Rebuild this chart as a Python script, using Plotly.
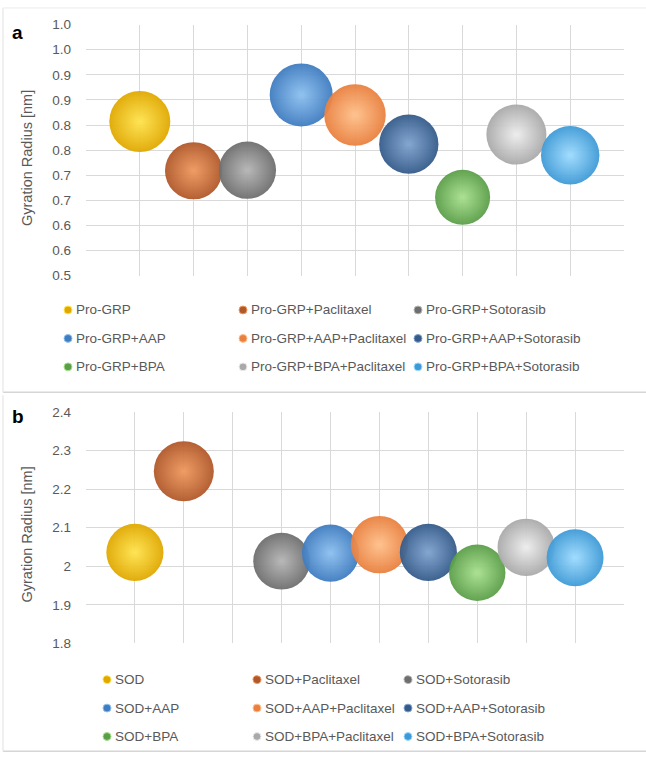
import plotly.graph_objects as go

# ---------------- data ----------------
names_a = ["Pro-GRP", "Pro-GRP+Paclitaxel", "Pro-GRP+Sotorasib",
           "Pro-GRP+AAP", "Pro-GRP+AAP+Paclitaxel", "Pro-GRP+AAP+Sotorasib",
           "Pro-GRP+BPA", "Pro-GRP+BPA+Paclitaxel", "Pro-GRP+BPA+Sotorasib"]
x_a = [1, 2, 3, 4, 5, 6, 7, 8, 9]
y_a = [0.807, 0.709, 0.710, 0.860, 0.820, 0.762, 0.656, 0.781, 0.740]

names_b = ["SOD", "SOD+Paclitaxel", "SOD+Sotorasib",
           "SOD+AAP", "SOD+AAP+Paclitaxel", "SOD+AAP+Sotorasib",
           "SOD+BPA", "SOD+BPA+Paclitaxel", "SOD+BPA+Sotorasib"]
x_b = [1, 2, 4, 5, 6, 7, 8, 9, 10]
y_b = [2.036, 2.246, 2.013, 2.034, 2.056, 2.036, 1.983, 2.049, 2.022]

tickvals_a = [0.5, 0.55, 0.6, 0.65, 0.7, 0.75, 0.8, 0.85, 0.9, 0.95, 1.0]
ticktext_a = ["0.5", "0.6", "0.6", "0.7", "0.7", "0.8", "0.8", "0.9", "0.9", "1.0", "1.0"]
tickvals_b = [1.8, 1.9, 2.0, 2.1, 2.2, 2.3, 2.4]
ticktext_b = ["1.8", "1.9", "2", "2.1", "2.2", "2.3", "2.4"]

# edge colour, highlight colour
colors = [("#E0A800", "#FFE34D"), ("#B0582A", "#F0985E"), ("#6E6E6E", "#B5B5B5"),
          ("#3F7CC0", "#8CC0F0"), ("#E9803F", "#FFC08A"), ("#355B8A", "#7EA2CF"),
          ("#5A9E48", "#A8E08E"), ("#A9A9A9", "#EDEDED"), ("#3E9AD6", "#9EDBFF")]

W, H = 646, 769
FONT = "Liberation Sans"
GRID = "#D9D9D9"
TXT = "#595959"
FRAME = "#D6D6D6"

def px_x(p):
    return p / W

def px_y(p):
    return 1 - p / H

fig = go.Figure()

def add_panel(names, xs, ys, xaxis, yaxis, maxdiam):
    sref = 2.0 * max(ys) / (maxdiam ** 2)
    for n, xv, yv, (c, hl) in zip(names, xs, ys, colors):
        fig.add_trace(go.Scatter(
            x=[xv], y=[yv], mode="markers", name=n, showlegend=False,
            xaxis=xaxis, yaxis=yaxis, cliponaxis=False,
            marker=dict(size=[yv], sizemode="area", sizeref=sref, color=c,
                        opacity=0.95,
                        gradient=dict(type="radial", color=hl),
                        line=dict(width=0)),
        ))

add_panel(names_a, x_a, y_a, "x", "y", 63)
add_panel(names_b, x_b, y_b, "x2", "y2", 60)

ax_common = dict(showgrid=True, gridcolor=GRID, gridwidth=1, zeroline=False,
                 showticklabels=False, ticks="", showline=False, dtick=1)
ay_common = dict(showgrid=True, gridcolor=GRID, gridwidth=1, zeroline=False,
                 showline=False, tickmode="array", ticks="",
                 tickfont=dict(family=FONT, size=13.5, color=TXT),
                 ticklabelstandoff=14)

fig.update_layout(
    width=W, height=H, margin=dict(l=0, r=0, t=0, b=0),
    paper_bgcolor="white", plot_bgcolor="white",
    font=dict(family=FONT, size=12, color=TXT),
    xaxis=dict(domain=[px_x(86), px_x(624)], range=[0, 10], anchor="y", **ax_common),
    yaxis=dict(domain=[px_y(274), px_y(18)], range=[0.5, 1.0], anchor="x",
               tickvals=tickvals_a, ticktext=ticktext_a, **ay_common),
    xaxis2=dict(domain=[px_x(86), px_x(624)], range=[0, 11], anchor="y2", **ax_common),
    yaxis2=dict(domain=[px_y(649), px_y(413)], range=[1.8, 2.4], anchor="x2",
                tickvals=tickvals_b, ticktext=ticktext_b, **ay_common),
)

annotations = []
shapes = []

# panel letters
for letter, ly in (("a", 26), ("b", 418)):
    annotations.append(dict(text="<b>%s</b>" % letter, x=px_x(17.5), y=px_y(ly),
                            xref="paper", yref="paper", xanchor="center", yanchor="middle",
                            showarrow=False, font=dict(family=FONT, size=19, color="black")))
# axis titles
for yc in (154, 538):
    annotations.append(dict(text="Gyration Radius [nm]", x=px_x(27), y=px_y(yc),
                            xref="paper", yref="paper", xanchor="center", yanchor="middle",
                            showarrow=False, textangle=-90,
                            font=dict(family=FONT, size=14.5, color=TXT)))

# legends (3 columns x 3 rows)
def add_legend(names, col_x, row_y, fsize):
    for i, (n, (c, hl)) in enumerate(zip(names, colors)):
        cx = col_x[i % 3]
        cy = row_y[i // 3]
        shapes.append(dict(type="circle", xref="paper", yref="paper",
                           x0=px_x(cx - 4), x1=px_x(cx + 4), y0=px_y(cy + 4), y1=px_y(cy - 4),
                           fillcolor=c, line=dict(color=hl, width=1)))
        annotations.append(dict(text=n, x=px_x(cx + 6), y=px_y(cy), xref="paper", yref="paper",
                                xanchor="left", yanchor="middle", showarrow=False,
                                font=dict(family=FONT, size=fsize, color=TXT)))

add_legend(names_a, [68, 243, 418], [309, 338, 367], 13.5)
add_legend(names_b, [107, 257, 408], [686, 715, 744], 13.5)

# chart frames
for (y0, y1) in ((1, 393), (396, 759)):
    shapes.append(dict(type="line", xref="paper", yref="paper", x0=px_x(3), x1=1,
                       y0=px_y(y1), y1=px_y(y1), line=dict(color=FRAME, width=1.5)))
    shapes.append(dict(type="line", xref="paper", yref="paper", x0=px_x(3), x1=px_x(3),
                       y0=px_y(y0), y1=px_y(y1), line=dict(color="#EBEBEB", width=1.5)))
shapes.append(dict(type="line", xref="paper", yref="paper", x0=px_x(3), x1=1,
                   y0=px_y(1), y1=px_y(1), line=dict(color="#EBEBEB", width=1)))

fig.update_layout(annotations=annotations, shapes=shapes)
fig.write_html("out.html")
